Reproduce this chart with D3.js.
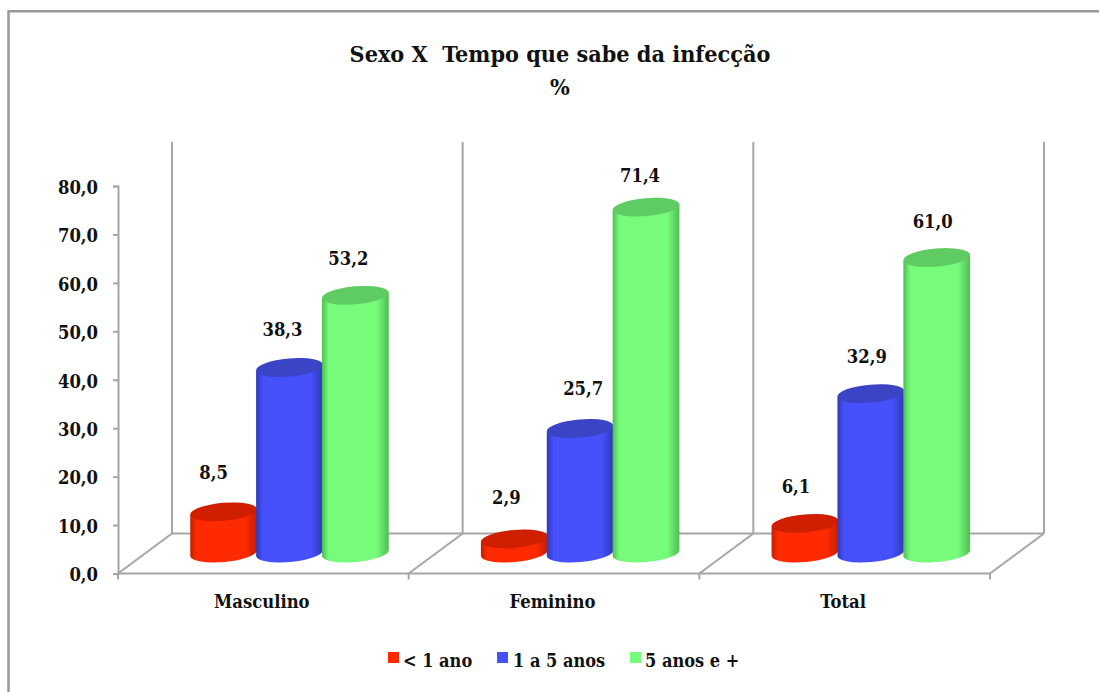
<!DOCTYPE html>
<html><head><meta charset="utf-8">
<script src="https://cdn.jsdelivr.net/npm/d3@7"></script>
<style>
html,body{margin:0;padding:0;background:#fff}
svg{display:block}
text{font-family:"DejaVu Serif Condensed","DejaVu Serif",serif;font-weight:700;fill:#111}
</style></head><body>
<svg id="c" width="1099" height="692"></svg>
<script>
const categories = ["Masculino","Feminino","Total"];
const seriesNames = ["< 1 ano","1 a 5 anos","5 anos e +"];
const lessThanOne = [8.5,2.9,6.1];
const oneToFive = [38.3,25.7,32.9];
const fivePlus = [53.2,71.4,61.0];
const yTicks = [0,10,20,30,40,50,60,70,80];
const titleLines = ["Sexo X  Tempo que sabe da infecção","%"];
const colors = [
 {mid:"#ff2a00",edge:"#c42000",top:"#d01f00"},
 {mid:"#4650fb",edge:"#3039b4",top:"#3a44c4"},
 {mid:"#76fb7a",edge:"#4fbd54",top:"#5fcb63"}
];
const series = [lessThanOne,oneToFive,fivePlus];
const grey = "#a6a6a6";
const fmt = v => d3.format(".1f")(v).replace(".",",");

const svg = d3.select("#c");
const defs = svg.append("defs");
colors.forEach((c,i)=>{
  const g = defs.append("linearGradient").attr("id","g"+i).attr("x1","0").attr("x2","1").attr("y1","0").attr("y2","0");
  [[0,c.edge],[0.1,c.mid],[0.82,c.mid],[1,c.edge]].forEach(s=>g.append("stop").attr("offset",s[0]).attr("stop-color",s[1]));
});
// frame
svg.append("path").attr("d","M1099,11.2 H8.5 V692").attr("fill","none").attr("stroke","#999").attr("stroke-width",2.5);

const depthX = 54, depthY = 40;
const x = d3.scaleBand().domain(categories).range([118,990]);
const y = d3.scaleLinear().domain([0,80]).range([573.5,186]);
const inner = d3.scaleBand().domain(d3.range(3)).range([0.25,0.93]);
const pxPerUnit = y(0)-y(1);

const frame = svg.append("g").attr("fill","none").attr("stroke",grey).attr("stroke-width",2);
const edges = categories.map(c=>x(c)).concat([990]);
edges.forEach(e=>{
  frame.append("line").attr("x1",e+depthX).attr("x2",e+depthX).attr("y1",142).attr("y2",y(0)-depthY);
  frame.append("line").attr("x1",e).attr("x2",e+depthX).attr("y1",y(0)).attr("y2",y(0)-depthY);
  frame.append("line").attr("x1",e).attr("x2",e).attr("y1",y(0)).attr("y2",y(0)+6);
});
frame.append("line").attr("x1",118).attr("x2",990).attr("y1",y(0)).attr("y2",y(0));
frame.append("line").attr("x1",118+depthX).attr("x2",990+depthX).attr("y1",y(0)-depthY).attr("y2",y(0)-depthY);

// y axis
const ax = svg.append("g").attr("transform","translate(118,0)").call(d3.axisLeft(y).tickValues(yTicks).tickFormat(fmt).tickSize(5).tickPadding(15));
ax.selectAll("path,line").attr("stroke",grey).attr("stroke-width",2);
ax.selectAll("text").style("font-size","18.3px").attr("fill","#111").attr("transform","translate(0,1.5)");

// x labels
svg.append("g").selectAll("text").data(categories).join("text")
 .attr("x",d=>x(d)+x.bandwidth()/2-1.5).attr("y",608).attr("text-anchor","middle").style("font-size","18.3px").text(d=>d);

// cylinders
const rx = 33.5, ry = 9, tilt = -5, rad = tilt*Math.PI/180;
const dx = rx*Math.cos(rad), dy = rx*Math.sin(rad);
const baseY = y(0)-20.5;
const labelShift = [[[-10,-33],[-7,-31],[-7,-30]],[[-8,-35],[3,-34],[-6,-25]],[[-9,-30],[-4,-31],[-4,-30]]];
categories.forEach((cat,ci)=>{
  const bw = x.bandwidth();
  series.forEach((vals,si)=>{
    const v = vals[ci];
    const cx = x(cat)+bw*inner(si)+bw*inner.bandwidth()/2;
    const topY = baseY - v*pxPerUnit;
    const g = svg.append("g");
    g.append("path").attr("fill",`url(#g${si})`)
     .attr("d",`M${cx-dx},${topY-dy} L${cx-dx},${baseY-dy} A${rx},${ry} ${tilt} 0 0 ${cx+dx},${baseY+dy} L${cx+dx},${topY+dy} Z`);
    g.append("ellipse").attr("cx",cx).attr("cy",topY).attr("rx",rx).attr("ry",ry)
     .attr("transform",`rotate(${tilt} ${cx} ${topY})`).attr("fill",colors[si].top);
    svg.append("text").attr("class","dl").attr("x",cx+labelShift[ci][si][0]).attr("y",topY+labelShift[ci][si][1])
     .attr("text-anchor","middle").style("font-size","18.3px").text(fmt(v));
  });
});
svg.selectAll("text.dl").raise();

// title
svg.append("g").selectAll("text").data(titleLines).join("text")
 .attr("x",560).attr("y",(d,i)=>62+i*33).attr("text-anchor","middle").style("font-size","23.2px").style("white-space","pre").attr("xml:space","preserve").text(d=>d);

// legend
const legendX = [388,497,630], labelX=[403,513,645];
seriesNames.forEach((n,i)=>{
  svg.append("rect").attr("x",legendX[i]).attr("y",652).attr("width",11).attr("height",11).attr("fill",colors[i].mid);
  svg.append("text").attr("x",labelX[i]).attr("y",667).style("font-size","18px").text(n);
});
</script></body></html>
